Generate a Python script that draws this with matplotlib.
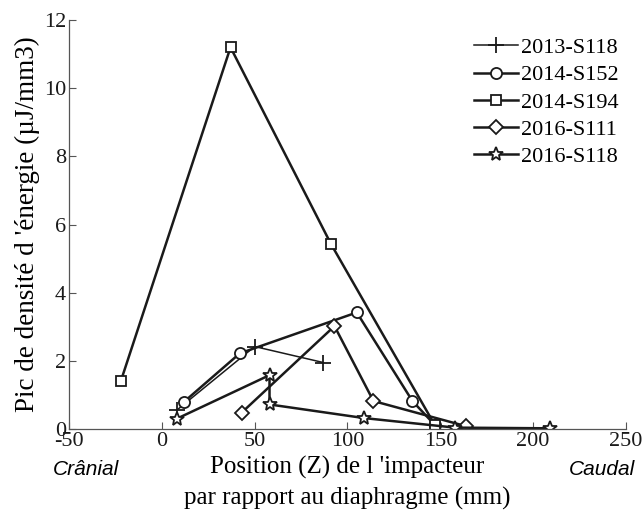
"""Peak energy density vs impactor position, MATLAB-style line chart."""

import matplotlib
matplotlib.use("Agg")
import matplotlib.pyplot as plt

# ---- data ----
labels = ["2013-S118", "2014-S152", "2014-S194", "2016-S111", "2016-S118"]
markers = ["+", "o", "s", "D", "*"]

x_2013_s118 = [8, 50, 87]
y_2013_s118 = [0.55, 2.42, 1.95]

x_2014_s152 = [12, 42, 105, 135, 147]
y_2014_s152 = [0.8, 2.22, 3.42, 0.82, 0.12]

x_2014_s194 = [-22, 37, 91, 147]
y_2014_s194 = [1.42, 11.2, 5.44, 0.12]

x_2016_s111 = [43, 93, 114, 164]
y_2016_s111 = [0.48, 3.02, 0.82, 0.08]

x_2016_s118 = [8, 58, 58, 109, 158, 209]
y_2016_s118 = [0.3, 1.58, 0.72, 0.32, 0.04, 0.02]

series_x = [x_2013_s118, x_2014_s152, x_2014_s194, x_2016_s111, x_2016_s118]
series_y = [y_2013_s118, y_2014_s152, y_2014_s194, y_2016_s111, y_2016_s118]

x_ticks = [-50, 0, 50, 100, 150, 200, 250]
y_ticks = [0, 2, 4, 6, 8, 10, 12]

plt.rcParams["font.family"] = ["Liberation Serif", "DejaVu Serif"]

fig = plt.figure(figsize=(6.42, 5.15), dpi=100)
ax = fig.add_axes([0.1075, 0.167, 0.8675, 0.794])

line_c = "#1a1a1a"
sizes = {"+": 11, "o": 8, "s": 7, "D": 7, "*": 10}
widths = [1.1, 1.8, 1.8, 1.8, 1.8]
for xs, ys, lab, mk, lw in zip(series_x, series_y, labels, markers, widths):
    ax.plot(xs, ys, color=line_c, linewidth=lw, marker=mk,
            markersize=sizes[mk], markerfacecolor="white" if mk != "+" else line_c,
            markeredgecolor=line_c, markeredgewidth=1.3, label=lab)

ax.set_xlim(-50, 250)
ax.set_ylim(0, 12)
ax.set_xticks(x_ticks)
ax.set_yticks(y_ticks)
ax.set_xticklabels([str(v) for v in x_ticks])
ax.set_yticklabels([str(v) for v in y_ticks])
ax.tick_params(direction="in", length=5, width=0.8, labelsize=16,
               colors="#555555", labelcolor="#1a1a1a", pad=2)

for side in ("top", "right"):
    ax.spines[side].set_visible(False)
for side in ("left", "bottom"):
    ax.spines[side].set_color("#555555")
    ax.spines[side].set_linewidth(0.9)

ax.set_ylabel("Pic de densité d 'énergie (µJ/mm3)", fontsize=19.5, labelpad=3)
ax.set_xlabel("Position (Z) de l 'impacteur\npar rapport au diaphragme (mm)",
              fontsize=18, labelpad=4, linespacing=1.4)

ax.text(-58.5, -0.9, "Crânial", fontsize=15, style="italic",
        family=["Liberation Sans", "DejaVu Sans"], ha="left", va="top")
ax.text(255, -0.9, "Caudal", fontsize=15, style="italic",
        family=["Liberation Sans", "DejaVu Sans"], ha="right", va="top")

leg = ax.legend(loc="upper right", bbox_to_anchor=(1.01, 0.99), frameon=False,
                fontsize=16, handlelength=2.0, handletextpad=0.1,
                labelspacing=0.3, borderaxespad=0.2)

fig.savefig("out.png", dpi=100)
